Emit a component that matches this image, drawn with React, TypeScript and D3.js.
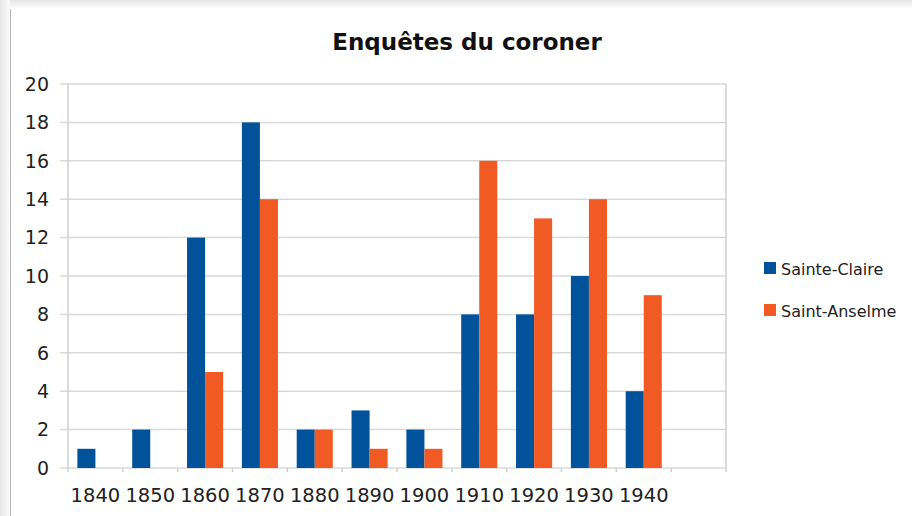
import React, { useRef, useEffect } from 'react';
import * as d3 from 'd3';

// decades on the x axis; the last slot is left empty as in the original
const decades = ['1840', '1850', '1860', '1870', '1880', '1890', '1900', '1910', '1920', '1930', '1940', ''];
const sainteClaire = [1, 2, 12, 18, 2, 3, 2, 8, 8, 10, 4, 0];
const saintAnselme = [0, 0, 5, 14, 2, 1, 1, 16, 13, 14, 9, 0];
const seriesNames = ['Sainte-Claire', 'Saint-Anselme'];
const seriesColors = ['#00539b', '#f25a23'];
const yTicks = [0, 2, 4, 6, 8, 10, 12, 14, 16, 18, 20];

const font = '"DejaVu Sans", sans-serif';

const App = () => {
  const ref = useRef<SVGSVGElement>(null);

  useEffect(() => {
    const W = 912;
    const H = 516;
    const margin = { top: 84, right: 186, bottom: 48, left: 68 };
    const width = W - margin.left - margin.right;
    const height = H - margin.top - margin.bottom;

    const svg = d3.select(ref.current);
    svg.selectAll('*').remove();

    // frame shadow
    const defs = svg.append('defs');
    const gTop = defs.append('linearGradient').attr('id', 'shTop').attr('x1', 0).attr('y1', 0).attr('x2', 0).attr('y2', 1);
    gTop.append('stop').attr('offset', '0%').attr('stop-color', '#e6e6e6');
    gTop.append('stop').attr('offset', '100%').attr('stop-color', '#fbfbfb');
    const gLeft = defs.append('linearGradient').attr('id', 'shLeft').attr('x1', 0).attr('y1', 0).attr('x2', 1).attr('y2', 0);
    gLeft.append('stop').attr('offset', '0%').attr('stop-color', '#e6e6e6');
    gLeft.append('stop').attr('offset', '100%').attr('stop-color', '#fbfbfb');

    svg.append('rect').attr('width', W).attr('height', H).attr('fill', '#fff');
    svg.append('rect').attr('x', 0).attr('y', 0).attr('width', W).attr('height', 8).attr('fill', 'url(#shTop)');
    svg.append('rect').attr('x', 0).attr('y', 0).attr('width', 10).attr('height', H).attr('fill', 'url(#shLeft)');
    svg.append('line').attr('x1', 10.5).attr('x2', 10.5).attr('y1', 9).attr('y2', H)
      .attr('stroke', '#b8b8b8').attr('stroke-width', 1);

    svg.append('text')
      .attr('x', 467).attr('y', 50)
      .attr('text-anchor', 'middle')
      .attr('font-family', font).attr('font-weight', 'bold').attr('font-size', 23)
      .attr('fill', '#111')
      .text('Enquêtes du coroner');

    const g = svg.append('g').attr('transform', `translate(${margin.left},${margin.top})`);

    const x = d3.scaleBand<string>().domain(decades.map((d, i) => `${i}`)).range([0, width]).padding(0);
    const xs = d3.scaleBand<number>().domain([0, 1]).range([0, x.bandwidth()]).paddingInner(0).paddingOuter(0.52);
    const y = d3.scaleLinear().domain([0, 20]).range([height, 0]);

    // gridlines
    g.selectAll('.grid').data(yTicks).enter().append('line')
      .attr('x1', -8).attr('x2', width)
      .attr('y1', (d) => y(d)).attr('y2', (d) => y(d))
      .attr('stroke', '#d9d9d9').attr('stroke-width', 1.5);

    // plot border right + left axis
    g.append('line').attr('x1', 0).attr('x2', 0).attr('y1', 0).attr('y2', height + 4)
      .attr('stroke', '#cfcfcf').attr('stroke-width', 1.5);
    g.append('line').attr('x1', width).attr('x2', width).attr('y1', 0).attr('y2', height + 4)
      .attr('stroke', '#cfcfcf').attr('stroke-width', 1.5);

    // x tick marks
    g.selectAll('.xt').data(decades.slice(1)).enter().append('line')
      .attr('x1', (_d, i) => x(`${i + 1}`)!).attr('x2', (_d, i) => x(`${i + 1}`)!)
      .attr('y1', height).attr('y2', height + 4)
      .attr('stroke', '#cfcfcf').attr('stroke-width', 1.5);

    // y labels
    g.selectAll('.yl').data(yTicks).enter().append('text')
      .attr('x', -19).attr('y', (d) => y(d)).attr('dy', '0.36em')
      .attr('text-anchor', 'end')
      .attr('font-family', font).attr('font-size', 19).attr('fill', '#222')
      .text((d) => d);

    // x labels
    g.selectAll('.xl').data(decades).enter().append('text')
      .attr('x', (_d, i) => x(`${i}`)! + x.bandwidth() / 2)
      .attr('y', height + 34)
      .attr('text-anchor', 'middle')
      .attr('font-family', font).attr('font-size', 19.5).attr('fill', '#222')
      .text((d) => d);

    // bars
    [sainteClaire, saintAnselme].forEach((vals, s) => {
      g.selectAll(`.bar${s}`).data(vals).enter().append('rect')
        .attr('x', (_d, i) => x(`${i}`)! + xs(s)!)
        .attr('width', xs.bandwidth())
        .attr('y', (d) => y(d))
        .attr('height', (d) => height - y(d))
        .attr('fill', seriesColors[s]);
    });

    // legend
    const lg = svg.append('g').attr('transform', 'translate(764,262)');
    seriesNames.forEach((name, i) => {
      lg.append('rect').attr('x', 0).attr('y', i * 42).attr('width', 12).attr('height', 12).attr('fill', seriesColors[i]);
      lg.append('text').attr('x', 17).attr('y', i * 42 + 13)
        .attr('font-family', font).attr('font-size', 16).attr('fill', '#222')
        .text(name);
    });
  }, []);

  return (
    <div style={{ position: 'fixed', left: 0, top: 0 }}>
      <svg ref={ref} width={912} height={516} style={{ display: 'block' }} />
    </div>
  );
};

export default App;
